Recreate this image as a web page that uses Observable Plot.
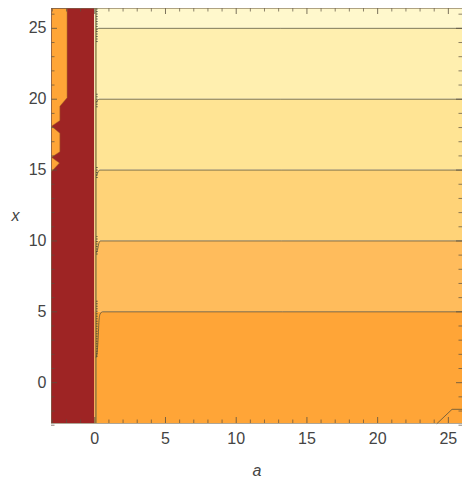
<!DOCTYPE html>
<html>
<head>
<meta charset="utf-8">
<script src="https://cdn.jsdelivr.net/npm/d3@7"></script>
<script src="https://cdn.jsdelivr.net/npm/@observablehq/plot@0.6"></script>
<style>
  html, body { margin: 0; padding: 0; background: #fff; }
  #chart svg { display: block; }
</style>
</head>
<body>
<div id="chart"></div>
<script>
// ---- data ----
const xDomain = [-3.06, 26];
const yDomain = [-2.88, 26.4];
const boundaryA = 0;                       // left of this: undefined region (dark red)
const levels = [5, 10, 15, 20, 25];        // contour levels of x
const bandColors = ["#FFA537", "#FFBC5C", "#FFD378", "#FFE494", "#FFEFAF", "#FFF8CC"];
const undefinedColor = "#9E2424";
const stripColor = "#FFA537";

// orange strip at the far left (a, x vertices)
const stripA = [-3.06, -1.96, -1.96, -2.47, -2.47, -3.06, -2.47, -2.47, -3.06, -2.5, -3.06];
const stripX = [26.4, 26.4, 20.1, 19.5, 18.5, 18.1, 17.6, 16.3, 15.9, 15.5, 14.9];

// contour lines (level, a, x)
const contourLevel = [5,5,5,5,5,5,5, 10,10,10,10,10, 15,15,15,15, 20,20,20, 25,25,25];
const contourA = [0.1,0.2,0.26,0.3,0.38,0.55,26, 0.12,0.2,0.28,0.4,26, 0.12,0.2,0.35,26, 0.12,0.3,26, 0.12,0.3,26];
const contourX = [1.8,2.5,3.6,4.4,4.85,5,5, 9.2,9.4,9.8,10,10, 14.6,14.8,15,15, 19.8,20,20, 24.9,25,25];

// small contour in the lower-right corner
const cornerA = [24.2, 25.26, 26];
const cornerX = [-2.88, -1.88, -1.88];

// squiggly contour fragments along the boundary
const squiggleLow = [24, 19.4, 14.4, 9, 1.8];
const squiggleHigh = [26.4, 20.4, 15.2, 10.3, 5.8];

const majorTicks = [0, 5, 10, 15, 20, 25];
const minorTicks = [-3,-2,-1,1,2,3,4,6,7,8,9,11,12,13,14,16,17,18,19,21,22,23,24,26];

// ---- derived tables ----
const bands = bandColors.map((c, i) => ({
  y1: i === 0 ? yDomain[0] : levels[i - 1],
  y2: i === levels.length ? yDomain[1] : levels[i],
  color: c
}));
const strip = stripA.map((a, i) => ({a, x: stripX[i]}));
const contours = contourA.map((a, i) => ({a, x: contourX[i], level: contourLevel[i]}));
const corner = cornerA.map((a, i) => ({a, x: cornerX[i]}));
const squiggles = squiggleLow.map((lo, i) => ({y1: lo, y2: squiggleHigh[i]}));

const W = 462, H = 481, mL = 51, mR = 0, mT = 8, mB = 58;
const plotH = H - mT - mB, plotW = W - mL - mR;
const tickCol = "#5a5040";
const textCol = "#444";
const fs = 16;

const chart = Plot.plot({
  width: W, height: H,
  marginLeft: mL, marginRight: mR, marginTop: mT, marginBottom: mB,
  style: {fontFamily: "Liberation Sans, Arial, sans-serif", fontSize: "16px", color: textCol, background: "#fff"},
  x: {domain: xDomain},
  y: {domain: yDomain},
  marks: [
    Plot.rect([0], {x1: xDomain[0], x2: boundaryA, y1: yDomain[0], y2: yDomain[1], fill: undefinedColor}),
    Plot.rect(bands, {x1: boundaryA, x2: xDomain[1], y1: "y1", y2: "y2", fill: "color"}),
    Plot.line(strip, {x: "a", y: "x", fill: stripColor, stroke: "#a06a2a", strokeWidth: 0.7, strokeOpacity: 0.7}),
    Plot.ruleX([boundaryA + 0.08], {y1: yDomain[0], y2: yDomain[1], stroke: "#7d7340", strokeWidth: 1.6, strokeOpacity: 0.8}),
    Plot.ruleX(squiggles, {x: boundaryA + 0.15, y1: "y1", y2: "y2", stroke: "#333", strokeWidth: 1.5, strokeDasharray: "1,1.5", strokeOpacity: 0.8}),
    Plot.line(contours, {x: "a", y: "x", z: "level", stroke: "#4a4a3a", strokeWidth: 0.9, strokeOpacity: 0.8, curve: "monotone-x"}),
    Plot.line(corner, {x: "a", y: "x", stroke: "#4a4a3a", strokeWidth: 0.9, strokeOpacity: 0.8}),
    // inside ticks: bottom / top
    Plot.tickX(majorTicks, {x: d => d, insetTop: plotH - 6, stroke: tickCol, strokeOpacity: 0.8}),
    Plot.tickX(minorTicks, {x: d => d, insetTop: plotH - 3.5, stroke: tickCol, strokeOpacity: 0.7}),
    Plot.tickX(majorTicks, {x: d => d, insetBottom: plotH - 6, stroke: tickCol, strokeOpacity: 0.8}),
    Plot.tickX(minorTicks, {x: d => d, insetBottom: plotH - 3.5, stroke: tickCol, strokeOpacity: 0.7}),
    // inside ticks: left / right
    Plot.tickY(majorTicks, {y: d => d, insetRight: plotW - 6, stroke: tickCol, strokeOpacity: 0.8}),
    Plot.tickY(minorTicks, {y: d => d, insetRight: plotW - 3.5, stroke: tickCol, strokeOpacity: 0.7}),
    Plot.tickY(majorTicks, {y: d => d, insetLeft: plotW - 6, stroke: tickCol, strokeOpacity: 0.8}),
    Plot.tickY(minorTicks, {y: d => d, insetLeft: plotW - 3.5, stroke: tickCol, strokeOpacity: 0.7}),
    Plot.frame({stroke: "#7a6a50", strokeOpacity: 0.6}),
    Plot.axisX(majorTicks, {tickSize: 0, tickPadding: 9, label: null, fill: textCol, fontSize: fs}),
    Plot.axisY(majorTicks, {tickSize: 0, tickPadding: 5, label: null, fill: textCol, fontSize: fs}),
    Plot.text(["a"], {frameAnchor: "bottom", dy: 47, fontStyle: "italic", fill: textCol, lineAnchor: "middle", fontSize: fs}),
    Plot.text(["x"], {frameAnchor: "left", dx: -40, fontStyle: "italic", fill: textCol, lineAnchor: "middle", fontSize: fs})
  ]
});
document.getElementById("chart").appendChild(chart);
</script>
</body>
</html>
